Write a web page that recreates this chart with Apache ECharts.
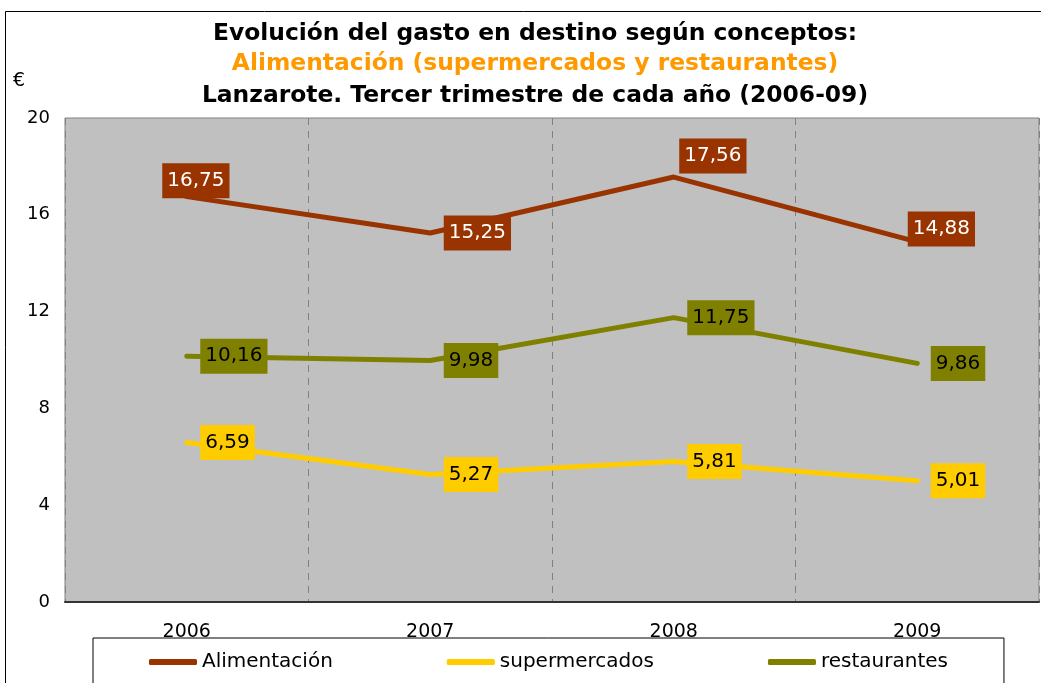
<!DOCTYPE html>
<html>
<head>
<meta charset="utf-8">
<script src="https://cdn.jsdelivr.net/npm/echarts@6/dist/echarts.min.js"></script>
<style>
  html, body { margin: 0; padding: 0; background: #fff; }
  #chart { width: 1041px; height: 683px; }
</style>
</head>
<body>
<div id="chart"></div>
<script>
const years = ["2006", "2007", "2008", "2009"];
const alimentacion = [16.75, 15.25, 17.56, 14.88];
const supermercados = [6.59, 5.27, 5.81, 5.01];
const restaurantes = [10.16, 9.98, 11.75, 9.86];
const yTicks = { min: 0, max: 20, interval: 4 };

// hand-placed labels of the top series (as in the original sheet)
const alimLabelShift = [[-38, -16], [0, 0], [-8, -21], [-23, -13]];

const FONT = "DejaVu Sans";
const fmt = (p) => String(p.value).replace(".", ",");

const makeSeries = (name, values, color, textColor, shifts) => ({
  name: name,
  type: "line",
  data: values.map((v, i) =>
    shifts ? { value: v, label: { offset: shifts[i] } } : v
  ),
  symbol: "circle",
  symbolSize: 1,
  itemStyle: { color: color },
  lineStyle: { color: color, width: 5, cap: "round", join: "round" },
  label: {
    show: true,
    position: "right",
    distance: 13,
    formatter: fmt,
    backgroundColor: color,
    color: textColor,
    fontFamily: FONT,
    fontSize: 20,
    padding: [8, 5, 7, 5],
  },
  emphasis: { disabled: true },
});

const chart = echarts.init(document.getElementById("chart"));

const titleText = (text, y, fill) => ({
  type: "text",
  x: 535,
  y: y,
  style: {
    text: text,
    font: "bold 23.4px 'DejaVu Sans'",
    fill: fill,
    textAlign: "center",
    textVerticalAlign: "middle",
  },
});

chart.setOption({
  animation: false,
  textStyle: { fontFamily: FONT },
  graphic: [
    {
      type: "rect",
      silent: true,
      z: -10,
      shape: { x: 5.5, y: 11.5, width: 1200, height: 800 },
      style: { fill: "none", stroke: "#000", lineWidth: 1 },
    },
    titleText("Evolución del gasto en destino según conceptos:", 34, "#000"),
    titleText("Alimentación (supermercados y restaurantes)", 64, "#FF9900"),
    titleText("Lanzarote. Tercer trimestre de cada año (2006-09)", 96, "#000"),
    {
      type: "text",
      x: 13,
      y: 81,
      style: {
        text: "€",
        font: "19px 'DejaVu Sans'",
        fill: "#000",
        textVerticalAlign: "middle",
      },
    },
  ],
  grid: {
    left: 65,
    right: 2,
    top: 118,
    bottom: 81,
    show: true,
    backgroundColor: "#C0C0C0",
    borderColor: "#808080",
    borderWidth: 1,
  },
  xAxis: {
    type: "category",
    data: years,
    boundaryGap: true,
    axisLine: { lineStyle: { color: "#333", width: 2 } },
    axisTick: { show: false },
    axisLabel: { color: "#000", fontSize: 19, margin: 21, fontFamily: FONT },
    splitLine: {
      show: true,
      lineStyle: { color: "#808080", type: [7, 6], width: 1 },
    },
  },
  yAxis: {
    type: "value",
    min: yTicks.min,
    max: yTicks.max,
    interval: yTicks.interval,
    axisLine: { show: false },
    axisTick: { show: false },
    splitLine: { show: false },
    axisLabel: { color: "#000", fontSize: 18, margin: 15, fontFamily: FONT },
  },
  legend: {
    left: 93,
    top: 638,
    padding: [14, 56, 20, 56],
    borderColor: "#000",
    borderWidth: 1,
    icon: "roundRect",
    itemWidth: 48,
    itemHeight: 6,
    itemGap: 114,
    textStyle: { color: "#000", fontSize: 20, fontFamily: FONT },
    data: ["Alimentación", "supermercados", "restaurantes"],
  },
  series: [
    makeSeries("Alimentación", alimentacion, "#993300", "#fff", alimLabelShift),
    makeSeries("supermercados", supermercados, "#FFCC00", "#000"),
    makeSeries("restaurantes", restaurantes, "#808000", "#000"),
  ],
});
</script>
</body>
</html>
